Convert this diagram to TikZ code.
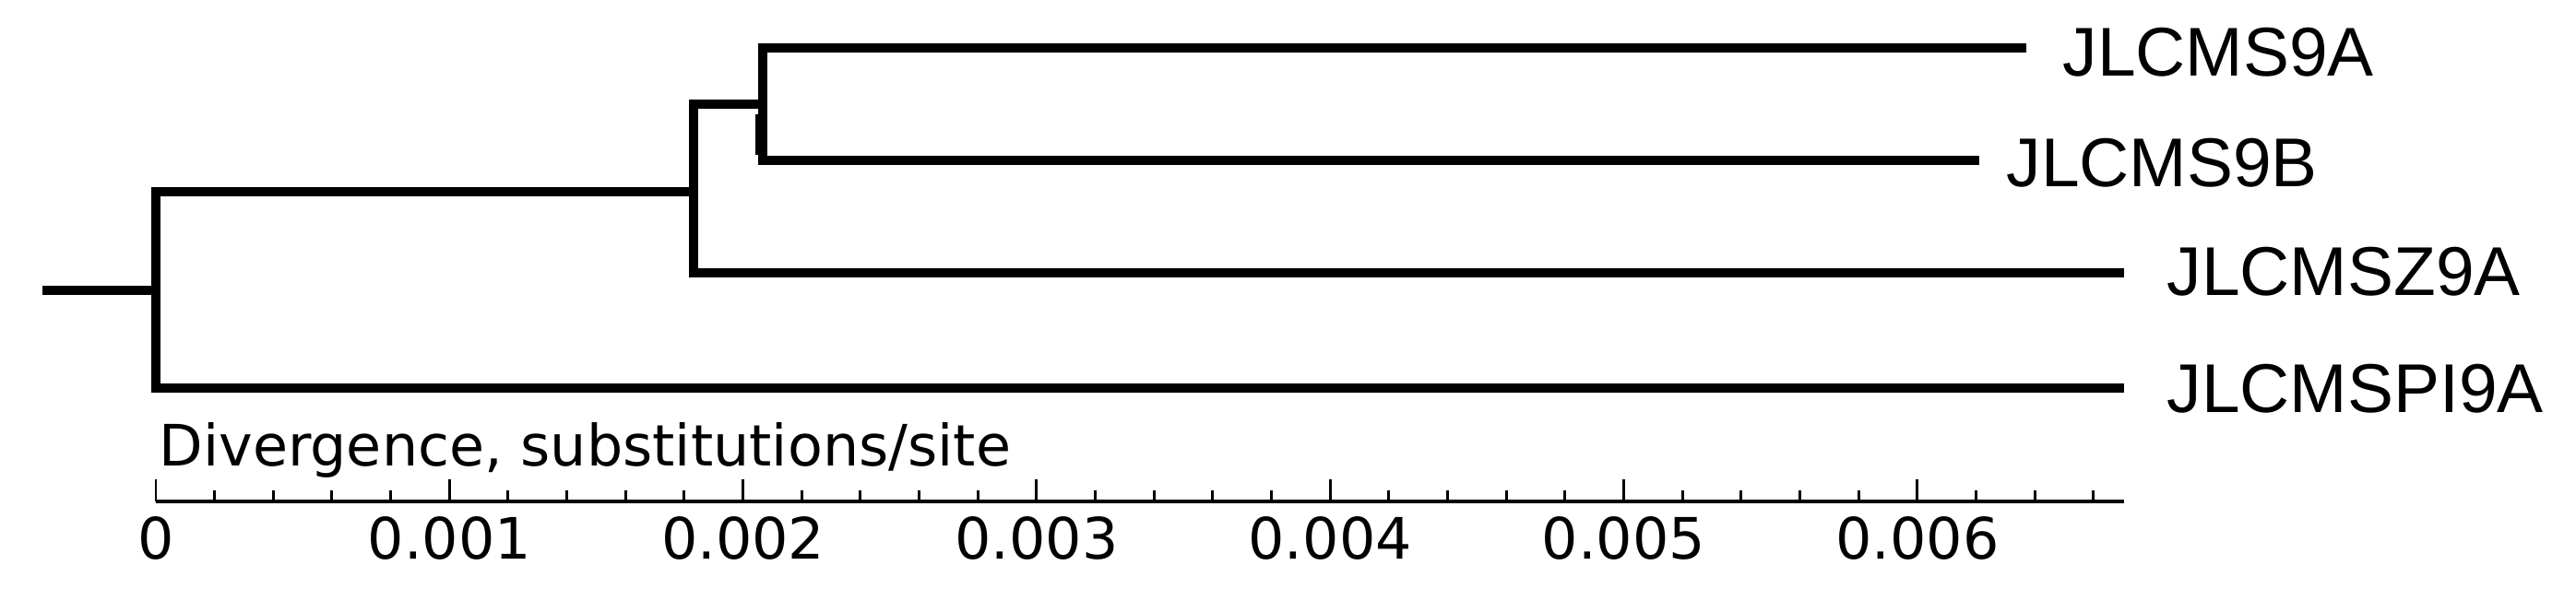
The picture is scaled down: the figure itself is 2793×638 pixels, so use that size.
\documentclass[tikz,border=0pt]{standalone}
\usepackage{fontspec}
\setmainfont{Liberation Sans}
\newfontfamily\axisfont{DejaVu Sans}
\begin{document}
\begin{tikzpicture}[x=0.01cm,y=-0.01cm,
  branch/.style={line width=2.85pt, line join=miter, line cap=butt},
  axisline/.style={line width=1.15pt},
  tickline/.style={line width=0.85pt},
  leaf/.style={anchor=base west, inner sep=0pt, font=\fontsize{21.3}{24}\selectfont},
  ticklab/.style={anchor=base, inner sep=0pt, font=\axisfont\fontsize{17.6}{20}\selectfont},
  axistitle/.style={anchor=base west, inner sep=0pt, font=\axisfont\fontsize{17.6}{20}\selectfont}]
\fill[white] (0,0) rectangle (2793,638);
\useasboundingbox (0,0) rectangle (2793,638);
% internal nodes
\coordinate (stub) at (46,315);
\coordinate (root) at (169,315);
\coordinate (n1) at (752,208);
\coordinate (n2) at (827,113);
% branch tips
\coordinate (e1) at (2197,52);
\coordinate (e2) at (2146,174);
\coordinate (e3) at (2303,296);
\coordinate (e4) at (2303,421);
% labels
\node[leaf] (l1) at (2236,82) {JLCMS9A};
\node[leaf] (l2) at (2175,202) {JLCMS9B};
\node[leaf] (l3) at (2349,320) {JLCMSZ9A};
\node[leaf] (l4) at (2349,447) {JLCMSPI9A};
% tree
\draw[branch] (e1) -- (e1 -| n2) -- (e2 -| n2) -- (e2);
\draw[branch] (n2) -- (n2 -| n1) -- (e3 -| n1) -- (e3);
\draw[branch] (n1) -- (n1 -| root) -- (e4 -| root) -- (e4);
\draw[branch] (stub) -- (root);
\draw[line width=1pt] (821,124) -- (821,168);
% axis
\coordinate (a0) at (169,544);
\coordinate (a1) at (2303,544);
\draw[axisline] (a0) -- (a1);
\foreach \k in {0,...,33}
  \draw[tickline] (169+\k*63.66,544) -- ++(0,-12);
\foreach \k/\t in {0/0,1/0.001,2/0.002,3/0.003,4/0.004,5/0.005,6/0.006}{
  \draw[tickline] (169+\k*318.3,544) -- ++(0,-24);
  \node[ticklab] (t\k) at (169+\k*318.3,606) {\t};
}
\node[axistitle] (title) at (172,505) {Divergence, substitutions/site};
\end{tikzpicture}
\end{document}
